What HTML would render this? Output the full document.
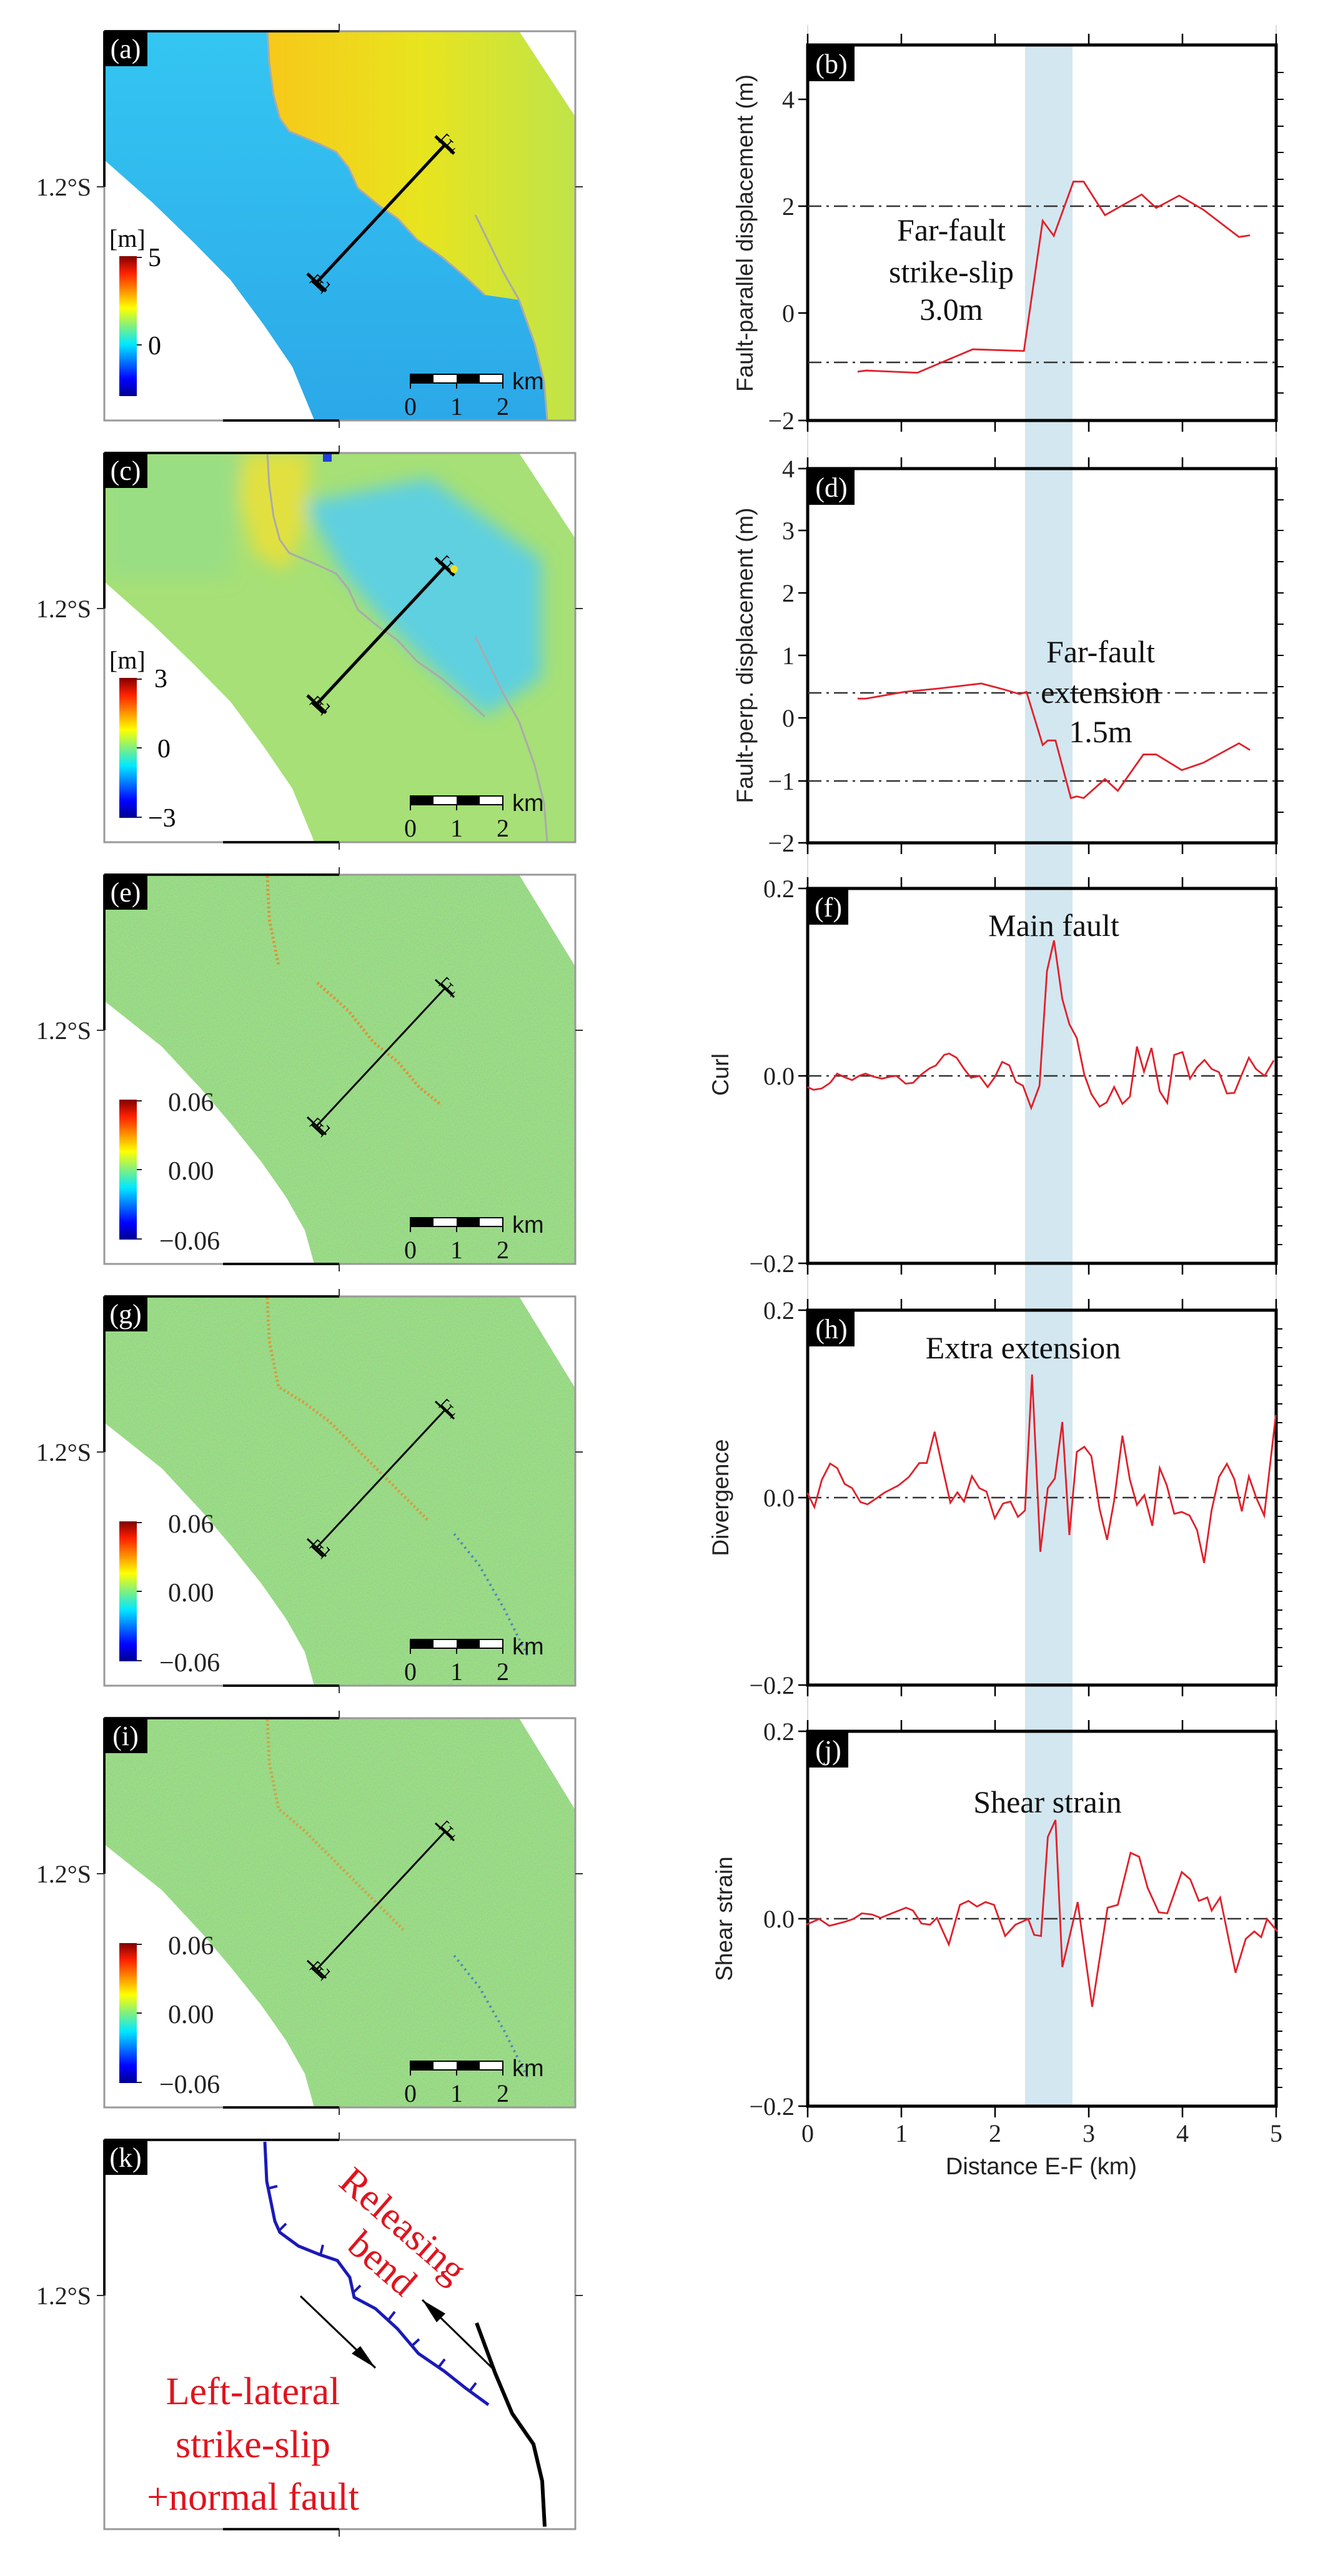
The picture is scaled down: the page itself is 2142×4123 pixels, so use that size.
<!DOCTYPE html>
<html><head><meta charset="utf-8"><style>
html,body{margin:0;padding:0;background:#fff}
svg{display:block}
.s{font-family:"Liberation Serif",serif}
.a{font-family:"Liberation Sans",sans-serif}
</style></head><body>
<svg width="2142" height="4123" viewBox="0 0 2142 4123" xmlns="http://www.w3.org/2000/svg">
<defs>
<linearGradient id="jet" x1="0" y1="1" x2="0" y2="0">
<stop offset="0" stop-color="#00008f"/><stop offset="0.12" stop-color="#0000ff"/><stop offset="0.37" stop-color="#00e8ff"/><stop offset="0.5" stop-color="#80f080"/><stop offset="0.63" stop-color="#ffff00"/><stop offset="0.88" stop-color="#ff2000"/><stop offset="1" stop-color="#800000"/>
</linearGradient>
<linearGradient id="ya" x1="260" y1="0" x2="754" y2="0" gradientUnits="userSpaceOnUse">
<stop offset="0" stop-color="#f7c81a"/><stop offset="0.5" stop-color="#e8e41e"/><stop offset="1" stop-color="#bfe44a"/></linearGradient>
<linearGradient id="ba" x1="0" y1="0" x2="0" y2="623" gradientUnits="userSpaceOnUse">
<stop offset="0" stop-color="#34c6f2"/><stop offset="1" stop-color="#2ca8e8"/></linearGradient>
<clipPath id="cpA" clipPathUnits="userSpaceOnUse"><polygon points="0,0 664,0 754,137 754,623 336,622 301,537 256,471 202,398 142,337 78,275 0,206"/></clipPath>
<clipPath id="cpE" clipPathUnits="userSpaceOnUse"><polygon points="0,0 664,0 754,147 754,623 336,623 321,569 291,516 251,459 202,398 157,345 92,275 0,202"/></clipPath>
<filter id="bl" x="-10%" y="-10%" width="120%" height="120%"><feGaussianBlur stdDeviation="14"/></filter>
<filter id="nz" x="0" y="0" width="100%" height="100%"><feTurbulence type="fractalNoise" baseFrequency="0.55" numOctaves="1" seed="4"/><feColorMatrix type="matrix" values="1 0 0 0 0  0 1 0 0 0  0 0 1 0 0  0 0 0 0 1"/></filter>
</defs>

<!-- (a) -->
<g transform="translate(167,50)">
 <g clip-path="url(#cpA)">
  <rect x="0" y="0" width="754" height="623" fill="url(#ba)"/>
  <polygon points="261,0 264,51 271,102 281,139 296,160 341,179 371,193 391,218 406,251 440,279 470,300 500,333 540,361 579,394 609,422 664,430 689,500 704,561 709,622 754,622 754,0" fill="url(#ya)"/>
 </g>
 <polyline points="261,0 264,51 271,102 281,139 296,160 341,179 371,193 391,218 406,251 440,279 470,300 500,333 540,361 579,394 609,422" fill="none" stroke="#aaa" stroke-width="3"/>
 <polyline points="594,294 619,345 639,386 664,430 689,500 704,561 709,622" fill="none" stroke="#aaa" stroke-width="3"/>
</g>
<!-- (c) -->
<g transform="translate(167,725)">
 <g clip-path="url(#cpA)">
  <rect x="0" y="0" width="754" height="623" fill="#a6e076"/>
  <g filter="url(#bl)">
   <polygon points="225,0 330,0 320,120 290,190 240,160 215,70" fill="#e2e040"/>
   <polygon points="320,80 520,40 700,170 700,360 610,420 520,340 440,260 380,190" fill="#5ed0e0"/>
   <polygon points="0,0 220,0 200,200 0,200" fill="#9ade84"/>
  </g>
 </g>
 <polyline points="261,0 264,51 271,102 281,139 296,160 341,179 371,193 391,218 406,251 440,279 470,300 500,333 540,361 579,394 609,422" fill="none" stroke="#aaa" stroke-width="3"/>
 <polyline points="594,294 619,345 639,386 664,430 689,500 704,561 709,622" fill="none" stroke="#aaa" stroke-width="3"/>
 <rect x="350" y="0" width="14" height="14" fill="#2040e0"/>
</g>
<!-- (e),(g),(i) -->
<g transform="translate(167,1400)">
 <g clip-path="url(#cpE)">
  <rect width="754" height="623" fill="#92e27a"/>
  <rect width="754" height="623" filter="url(#nz)" opacity="0.2"/>
 </g>
 <polyline points="261,2 264,71 279,145" fill="none" stroke="#f08020" stroke-width="5" stroke-dasharray="3 4" opacity="0.8"/>
 <polyline points="341,173 391,218 430,267 470,300 505,341 540,369" fill="none" stroke="#f08020" stroke-width="5" stroke-dasharray="3 4" opacity="0.8"/>
</g>
<g transform="translate(167,2075)">
 <g clip-path="url(#cpE)">
  <rect width="754" height="623" fill="#92e27a"/>
  <rect width="754" height="623" filter="url(#nz)" opacity="0.2"/>
 </g>
 <polyline points="261,2 264,71 279,145 320,170 360,200 400,240 440,280 480,320 520,360" fill="none" stroke="#f08020" stroke-width="5" stroke-dasharray="3 4" opacity="0.7"/>
 <polyline points="560,380 600,430 640,500 680,580" fill="none" stroke="#2050e0" stroke-width="4" stroke-dasharray="3 6" opacity="0.6"/>
</g>
<g transform="translate(167,2750)">
 <g clip-path="url(#cpE)">
  <rect width="754" height="623" fill="#92e27a"/>
  <rect width="754" height="623" filter="url(#nz)" opacity="0.2"/>
 </g>
 <polyline points="261,2 264,71 279,145 320,180 360,220 400,260 440,300 480,340" fill="none" stroke="#f08020" stroke-width="5" stroke-dasharray="3 4" opacity="0.6"/>
 <polyline points="560,380 600,430 640,500 680,580" fill="none" stroke="#2050e0" stroke-width="4" stroke-dasharray="3 6" opacity="0.6"/>
</g>

<g id="deco">
 <g fill="none" stroke="#999" stroke-width="3">
  <rect x="167" y="50" width="754" height="623"/><rect x="167" y="725" width="754" height="623"/>
  <rect x="167" y="1400" width="754" height="623"/><rect x="167" y="2075" width="754" height="623"/>
  <rect x="167" y="2750" width="754" height="623"/><rect x="167" y="3425" width="754" height="623"/>
 </g>
 <g stroke="#111" stroke-width="4">
  <path d="M167 50H543M357 673H543M167 725H543M357 1348H543M167 1400H543M357 2023H543M167 2075H543M357 2698H543M167 2750H543M357 3373H543M167 3425H543M357 4048H543"/>
  <path d="M167 50V299M167 725V974M167 1400V1649M167 2075V2324M167 2750V2999M167 3425V3674"/>
 </g>
 <g stroke="#333" stroke-width="2">
  <path d="M155 299H167M921 299H933M543 673V685M543 38V50"/>
  <path d="M155 974H167M921 974H933M543 1348V1360M543 713V725"/>
  <path d="M155 1649H167M921 1649H933M543 2023V2035M543 1388V1400"/>
  <path d="M155 2324H167M921 2324H933M543 2698V2710M543 2063V2075"/>
  <path d="M155 2999H167M921 2999H933M543 3373V3385M543 2738V2750"/>
  <path d="M155 3674H167M921 3674H933M543 4048V4060M543 3413V3425"/>
 </g>
 <g class="s" font-size="40" text-anchor="end" fill="#222">
  <text x="146" y="313">1.2°S</text><text x="146" y="988">1.2°S</text><text x="146" y="1663">1.2°S</text>
  <text x="146" y="2338">1.2°S</text><text x="146" y="3013">1.2°S</text><text x="146" y="3688">1.2°S</text>
 </g>
</g>

<g class="s">
 <g transform="translate(167,50)">
  <rect width="69" height="56" fill="#000"/><text x="34" y="43" fill="#fff" font-size="44" text-anchor="middle">(a)</text>
  <rect x="24" y="360" width="28" height="224" fill="url(#jet)"/>
  <path d="M52 502H60M52 362H60" stroke="#222" stroke-width="2"/>
  <text x="8" y="345" font-size="40">[m]</text>
  <text x="70" y="376" font-size="42">5</text><text x="70" y="517" font-size="42">0</text>
 </g>
 <g transform="translate(167,725)">
  <rect width="69" height="56" fill="#000"/><text x="34" y="43" fill="#fff" font-size="44" text-anchor="middle">(c)</text>
  <rect x="24" y="360" width="28" height="224" fill="url(#jet)"/>
  <path d="M52 472H60M52 362H60M52 583H60" stroke="#222" stroke-width="2"/>
  <text x="8" y="345" font-size="40">[m]</text>
  <text x="80" y="375" font-size="42">3</text><text x="85" y="487" font-size="42">0</text><text x="70" y="598" font-size="42">−3</text>
 </g>
 <g transform="translate(167,1400)">
  <rect width="69" height="56" fill="#000"/><text x="34" y="43" fill="#fff" font-size="44" text-anchor="middle">(e)</text>
 </g>
 <g transform="translate(167,2075)">
  <rect width="69" height="56" fill="#000"/><text x="34" y="43" fill="#fff" font-size="44" text-anchor="middle">(g)</text>
 </g>
 <g transform="translate(167,2750)">
  <rect width="69" height="56" fill="#000"/><text x="34" y="43" fill="#fff" font-size="44" text-anchor="middle">(i)</text>
 </g>
 <g transform="translate(167,3425)">
  <rect width="69" height="56" fill="#000"/><text x="34" y="43" fill="#fff" font-size="44" text-anchor="middle">(k)</text>
 </g>
</g>

<g class="s" font-size="42" fill="#222">
 <g transform="translate(167,1400)"><rect x="24" y="360" width="28" height="224" fill="url(#jet)"/><path d="M52 472H60M52 362H60M52 583H60" stroke="#222" stroke-width="2"/><text x="102" y="378">0.06</text><text x="102" y="488">0.00</text><text x="88" y="600">−0.06</text></g>
 <g transform="translate(167,2075)"><rect x="24" y="360" width="28" height="224" fill="url(#jet)"/><path d="M52 472H60M52 362H60M52 583H60" stroke="#222" stroke-width="2"/><text x="102" y="378">0.06</text><text x="102" y="488">0.00</text><text x="88" y="600">−0.06</text></g>
 <g transform="translate(167,2750)"><rect x="24" y="360" width="28" height="224" fill="url(#jet)"/><path d="M52 472H60M52 362H60M52 583H60" stroke="#222" stroke-width="2"/><text x="102" y="378">0.06</text><text x="102" y="488">0.00</text><text x="88" y="600">−0.06</text></g>
</g>

<g id="sb">
 <g transform="translate(167,50)">
  <g class="s" font-size="40" fill="#111"><rect x="490" y="549" width="37" height="14" fill="#000"/><rect x="527" y="549" width="37" height="14" fill="#fff"/><rect x="564" y="549" width="37" height="14" fill="#000"/><rect x="601" y="549" width="37" height="14" fill="#fff"/><rect x="490" y="549" width="148" height="14" fill="none" stroke="#000" stroke-width="2"/><path d="M490 549V572M564 563V572M638 549V572" stroke="#000" stroke-width="2"/><text x="653" y="573" class="a" font-size="38">km</text><text x="490" y="614" text-anchor="middle">0</text><text x="564" y="614" text-anchor="middle">1</text><text x="638" y="614" text-anchor="middle">2</text></g>
  <path d="M340 402L545 182M355 416L325 388M560 196L530 168" stroke="#000" stroke-width="5" fill="none"/>
  <text x="330" y="420" class="s" font-size="40" transform="rotate(-47 340 402)">E</text>
  <text x="540" y="198" class="s" font-size="40" transform="rotate(-47 545 182)">F</text>
 </g>
 <g transform="translate(167,725)">
  <g class="s" font-size="40" fill="#111"><rect x="490" y="549" width="37" height="14" fill="#000"/><rect x="527" y="549" width="37" height="14" fill="#fff"/><rect x="564" y="549" width="37" height="14" fill="#000"/><rect x="601" y="549" width="37" height="14" fill="#fff"/><rect x="490" y="549" width="148" height="14" fill="none" stroke="#000" stroke-width="2"/><path d="M490 549V572M564 563V572M638 549V572" stroke="#000" stroke-width="2"/><text x="653" y="573" class="a" font-size="38">km</text><text x="490" y="614" text-anchor="middle">0</text><text x="564" y="614" text-anchor="middle">1</text><text x="638" y="614" text-anchor="middle">2</text></g>
  <path d="M340 402L545 182M355 416L325 388M560 196L530 168" stroke="#000" stroke-width="5" fill="none"/>
  <text x="330" y="420" class="s" font-size="40" transform="rotate(-47 340 402)">E</text>
  <text x="540" y="198" class="s" font-size="40" transform="rotate(-47 545 182)">F</text>
  <circle cx="560" cy="186" r="6" fill="#f0e020"/>
 </g>
 <g transform="translate(167,1400)">
  <g class="s" font-size="40" fill="#111"><rect x="490" y="549" width="37" height="14" fill="#000"/><rect x="527" y="549" width="37" height="14" fill="#fff"/><rect x="564" y="549" width="37" height="14" fill="#000"/><rect x="601" y="549" width="37" height="14" fill="#fff"/><rect x="490" y="549" width="148" height="14" fill="none" stroke="#000" stroke-width="2"/><path d="M490 549V572M564 563V572M638 549V572" stroke="#000" stroke-width="2"/><text x="653" y="573" class="a" font-size="38">km</text><text x="490" y="614" text-anchor="middle">0</text><text x="564" y="614" text-anchor="middle">1</text><text x="638" y="614" text-anchor="middle">2</text></g>
  <path d="M340 402L545 182M355 416L325 388M560 196L530 168" stroke="#000" stroke-width="3" fill="none"/>
  <text x="330" y="420" class="s" font-size="40" transform="rotate(-47 340 402)">E</text>
  <text x="540" y="198" class="s" font-size="40" transform="rotate(-47 545 182)">F</text>
 </g>
 <g transform="translate(167,2075)">
  <g class="s" font-size="40" fill="#111"><rect x="490" y="549" width="37" height="14" fill="#000"/><rect x="527" y="549" width="37" height="14" fill="#fff"/><rect x="564" y="549" width="37" height="14" fill="#000"/><rect x="601" y="549" width="37" height="14" fill="#fff"/><rect x="490" y="549" width="148" height="14" fill="none" stroke="#000" stroke-width="2"/><path d="M490 549V572M564 563V572M638 549V572" stroke="#000" stroke-width="2"/><text x="653" y="573" class="a" font-size="38">km</text><text x="490" y="614" text-anchor="middle">0</text><text x="564" y="614" text-anchor="middle">1</text><text x="638" y="614" text-anchor="middle">2</text></g>
  <path d="M340 402L545 182M355 416L325 388M560 196L530 168" stroke="#000" stroke-width="3" fill="none"/>
  <text x="330" y="420" class="s" font-size="40" transform="rotate(-47 340 402)">E</text>
  <text x="540" y="198" class="s" font-size="40" transform="rotate(-47 545 182)">F</text>
 </g>
 <g transform="translate(167,2750)">
  <g class="s" font-size="40" fill="#111"><rect x="490" y="549" width="37" height="14" fill="#000"/><rect x="527" y="549" width="37" height="14" fill="#fff"/><rect x="564" y="549" width="37" height="14" fill="#000"/><rect x="601" y="549" width="37" height="14" fill="#fff"/><rect x="490" y="549" width="148" height="14" fill="none" stroke="#000" stroke-width="2"/><path d="M490 549V572M564 563V572M638 549V572" stroke="#000" stroke-width="2"/><text x="653" y="573" class="a" font-size="38">km</text><text x="490" y="614" text-anchor="middle">0</text><text x="564" y="614" text-anchor="middle">1</text><text x="638" y="614" text-anchor="middle">2</text></g>
  <path d="M340 402L545 182M355 416L325 388M560 196L530 168" stroke="#000" stroke-width="3" fill="none"/>
  <text x="330" y="420" class="s" font-size="40" transform="rotate(-47 340 402)">E</text>
  <text x="540" y="198" class="s" font-size="40" transform="rotate(-47 545 182)">F</text>
 </g>
</g>

<g transform="translate(167,3425)">
 <polyline points="257,3 260,66 273,130 281,148 311,170 346,184 373,193 393,220 400,252 434,270 469,302 503,342 544,370 578,397 615,424" fill="none" stroke="#1a1ab8" stroke-width="5"/>
 <path d="M261,78 l16,-4 M279,146 l12,-12 M346,184 l4,-16 M398,245 l12,-12 M455,288 l10,-13 M492,330 l12,-11 M535,364 l10,-13 M585,402 l10,-13" stroke="#1a1ab8" stroke-width="4"/>
 <polyline points="596,293 626,374 653,438 687,487 701,546 705,619" fill="none" stroke="#000" stroke-width="6"/>
 <path d="M314 250L434 365" stroke="#000" stroke-width="3"/>
 <polygon points="434,365 396,342 410,330" fill="#000"/>
 <path d="M626 370L509 256" stroke="#000" stroke-width="3"/>
 <polygon points="509,256 546,278 532,292" fill="#000"/>
 <g class="s" fill="#e0141e" font-size="62" text-anchor="middle">
  <text x="478" y="157" transform="rotate(41 478 137)">Releasing</text>
  <text x="445" y="218" transform="rotate(41 445 198)">bend</text>
  <text x="238" y="423">Left-lateral</text>
  <text x="238" y="508">strike-slip</text>
  <text x="238" y="592">+normal fault</text>
 </g>
</g>

<rect x="1641" y="72" width="76" height="3299" fill="#d3e7f0"/>
<path d="M1293 40V3371M2043 40V3371" stroke="#ddd" stroke-width="2"/>

<g fill="none" stroke="#000" stroke-width="5">
 <rect x="1293" y="72" width="750" height="601"/>
 <rect x="1293" y="750" width="750" height="599"/>
 <rect x="1293" y="1422" width="750" height="600"/>
 <rect x="1293" y="2097" width="750" height="600"/>
 <rect x="1293" y="2771" width="750" height="600"/>
</g>
<g stroke="#000" stroke-width="2.5">
 <path d="M1293 54V72M1443 54V72M1593 54V72M1743 54V72M1893 54V72M2043 54V72M1293 673V691M1443 673V691M1593 673V691M1743 673V691M1893 673V691M2043 673V691"/>
 <path d="M1293 732V750M1443 732V750M1593 732V750M1743 732V750M1893 732V750M2043 732V750M1293 1349V1367M1443 1349V1367M1593 1349V1367M1743 1349V1367M1893 1349V1367M2043 1349V1367"/>
 <path d="M1293 1404V1422M1443 1404V1422M1593 1404V1422M1743 1404V1422M1893 1404V1422M2043 1404V1422M1293 2022V2040M1443 2022V2040M1593 2022V2040M1743 2022V2040M1893 2022V2040M2043 2022V2040"/>
 <path d="M1293 2079V2097M1443 2079V2097M1593 2079V2097M1743 2079V2097M1893 2079V2097M2043 2079V2097M1293 2697V2715M1443 2697V2715M1593 2697V2715M1743 2697V2715M1893 2697V2715M2043 2697V2715"/>
 <path d="M1293 2753V2771M1443 2753V2771M1593 2753V2771M1743 2753V2771M1893 2753V2771M2043 2753V2771M1293 3371V3389M1443 3371V3389M1593 3371V3389M1743 3371V3389M1893 3371V3389M2043 3371V3389"/>
 <path d="M1278 159H1293M1278 330H1293M1278 501H1293M1278 673H1293"/>
 <path d="M1278 750H1293M1278 849H1293M1278 949H1293M1278 1049H1293M1278 1149H1293M1278 1250H1293M1278 1349H1293"/>
 <path d="M1278 1422H1293M1278 1722H1293M1278 2022H1293M1278 2097H1293M1278 2397H1293M1278 2697H1293M1278 2771H1293M1278 3071H1293M1278 3371H1293"/>
</g>
<g stroke="#000" stroke-width="2">
 <path d="M2043 116h12M2043 159h12M2043 202h12M2043 244h12M2043 287h12M2043 330h12M2043 373h12M2043 415h12M2043 458h12M2043 501h12M2043 544h12M2043 587h12M2043 629h12"/>
 <path d="M2043 800h12M2043 849h12M2043 899h12M2043 949h12M2043 999h12M2043 1049h12M2043 1099h12M2043 1149h12M2043 1199h12M2043 1250h12M2043 1300h12"/>
 <path d="M2043 1452h10M2043 1482h10M2043 1512h10M2043 1542h10M2043 1572h10M2043 1602h10M2043 1632h10M2043 1662h10M2043 1692h10M2043 1722h10M2043 1752h10M2043 1782h10M2043 1812h10M2043 1842h10M2043 1872h10M2043 1902h10M2043 1932h10M2043 1962h10M2043 1992h10"/>
 <path d="M2043 2127h10M2043 2157h10M2043 2187h10M2043 2217h10M2043 2247h10M2043 2277h10M2043 2307h10M2043 2337h10M2043 2367h10M2043 2397h10M2043 2427h10M2043 2457h10M2043 2487h10M2043 2517h10M2043 2547h10M2043 2577h10M2043 2607h10M2043 2637h10M2043 2667h10"/>
 <path d="M2043 2801h10M2043 2831h10M2043 2861h10M2043 2891h10M2043 2921h10M2043 2951h10M2043 2981h10M2043 3011h10M2043 3041h10M2043 3071h10M2043 3101h10M2043 3131h10M2043 3161h10M2043 3191h10M2043 3221h10M2043 3251h10M2043 3281h10M2043 3311h10M2043 3341h10"/>
</g>

<g stroke="#333" stroke-width="2.5" stroke-dasharray="22 8 4 8" fill="none">
 <path d="M1293 330H2043M1293 580H2043"/>
 <path d="M1293 1109H2043M1293 1250H2043"/>
 <path d="M1293 1722H2043"/><path d="M1293 2397H2043"/><path d="M1293 3071H2043"/>
</g>

<g fill="none" stroke="#e0202a" stroke-width="2.8">
 <g transform="scale(1.366,0.8945)">
  <polyline vector-effect="non-scaling-stroke" points="1005,665 1015,663 1075,667 1140,625 1200,628 1222,395 1235,422 1258,325 1270,325 1295,385 1338,348 1355,372 1382,350 1410,375 1452,424 1465,421"/>
  <polyline vector-effect="non-scaling-stroke" points="1005,1250 1015,1250 1060,1238 1100,1232 1150,1223 1175,1233 1195,1242 1203,1238 1222,1333 1228,1325 1237,1325 1255,1428 1262,1425 1270,1428 1295,1394 1310,1415 1340,1350 1355,1350 1385,1378 1410,1365 1452,1330 1465,1342"/>
 </g>
 <g transform="translate(1100,1380) scale(0.6637,0.447)">
  <polyline vector-effect="non-scaling-stroke" points="290,805 305,815 325,810 345,790 362,757 380,770 398,780 415,765 430,757 450,768 470,775 490,768 505,765 527,793 545,790 565,760 585,738 600,728 620,690 632,685 650,700 668,740 685,772 705,765 725,805 742,770 760,715 777,727 793,787 810,800 830,880 850,800 868,390 885,280 905,490 922,580 940,630 958,760 975,830 995,875 1012,860 1030,805 1050,865 1068,840 1085,660 1102,750 1120,665 1140,820 1158,862 1175,690 1195,680 1213,775 1230,735 1248,708 1265,740 1283,752 1302,828 1320,826 1338,760 1355,700 1372,740 1393,765 1415,710"/>
 </g>
 <g transform="translate(1100,2060) scale(0.6637,0.447)">
  <polyline vector-effect="non-scaling-stroke" points="290,737 307,788 325,690 345,632 362,648 380,705 398,720 418,770 435,778 455,758 475,737 510,710 535,680 560,630 578,630 597,518 615,640 635,772 652,735 668,768 687,677 705,720 722,732 742,828 762,775 780,768 798,823 815,800 832,313 852,948 870,720 887,685 905,483 922,888 940,590 958,572 975,605 995,795 1013,905 1030,765 1050,532 1068,690 1085,780 1103,745 1122,855 1140,648 1157,710 1175,812 1193,805 1212,818 1230,870 1247,988 1265,800 1283,680 1302,633 1320,688 1338,803 1355,678 1373,755 1392,818 1420,458"/>
 </g>
 <g transform="translate(0,2700) scale(1.366,0.906)">
  <polyline vector-effect="non-scaling-stroke" points="945,420 960,410 972,422 990,415 1000,410 1010,400 1022,402 1032,408 1045,400 1062,390 1070,395 1080,418 1090,420 1098,408 1112,455 1125,385 1135,378 1145,388 1155,380 1165,385 1178,440 1190,420 1205,410 1212,438 1220,440 1228,265 1237,235 1245,495 1263,380 1280,565 1298,390 1310,385 1325,293 1335,300 1345,355 1358,398 1368,400 1385,327 1395,340 1405,378 1415,372 1420,395 1430,372 1448,505 1460,445 1470,432 1478,442 1485,410 1497,432"/>
 </g>
</g>

<g class="s" font-size="44" fill="#fff" text-anchor="middle">
 <rect x="1295" y="74" width="73" height="56" fill="#000"/><text x="1331" y="117">(b)</text>
 <rect x="1295" y="752" width="73" height="56" fill="#000"/><text x="1331" y="795">(d)</text>
 <rect x="1295" y="1424" width="63" height="56" fill="#000"/><text x="1326" y="1467">(f)</text>
 <rect x="1295" y="2099" width="73" height="56" fill="#000"/><text x="1331" y="2142">(h)</text>
 <rect x="1295" y="2773" width="63" height="56" fill="#000"/><text x="1326" y="2816">(j)</text>
</g>

<g class="s" font-size="50" fill="#111" text-anchor="middle">
 <text x="1523" y="385">Far-fault</text><text x="1523" y="452">strike-slip</text><text x="1523" y="512">3.0m</text>
 <text x="1762" y="1060">Far-fault</text><text x="1762" y="1125">extension</text><text x="1762" y="1188">1.5m</text>
 <text x="1687" y="1498">Main fault</text>
 <text x="1638" y="2174">Extra extension</text>
 <text x="1677" y="2901">Shear strain</text>
</g>

<g class="s" font-size="40" fill="#222" text-anchor="end">
 <text x="1272" y="173">4</text><text x="1272" y="344">2</text><text x="1272" y="515">0</text><text x="1272" y="687">−2</text>
 <text x="1272" y="764">4</text><text x="1272" y="863">3</text><text x="1272" y="963">2</text><text x="1272" y="1063">1</text><text x="1272" y="1163">0</text><text x="1272" y="1264">−1</text><text x="1272" y="1363">−2</text>
 <text x="1272" y="1436">0.2</text><text x="1272" y="1736">0.0</text><text x="1272" y="2036">−0.2</text>
 <text x="1272" y="2111">0.2</text><text x="1272" y="2411">0.0</text><text x="1272" y="2711">−0.2</text>
 <text x="1272" y="2785">0.2</text><text x="1272" y="3085">0.0</text><text x="1272" y="3385">−0.2</text>
</g>
<g class="s" font-size="40" fill="#222" text-anchor="middle">
 <text x="1293" y="3428">0</text><text x="1443" y="3428">1</text><text x="1593" y="3428">2</text><text x="1743" y="3428">3</text><text x="1893" y="3428">4</text><text x="2043" y="3428">5</text>
</g>
<text x="1667" y="3480" class="a" font-size="38" fill="#222" text-anchor="middle">Distance E-F (km)</text>

<g class="a" font-size="37" fill="#222" text-anchor="middle">
 <text transform="translate(1205,373) rotate(-90)">Fault-parallel displacement (m)</text>
 <text transform="translate(1205,1049) rotate(-90)">Fault-perp. displacement (m)</text>
 <text transform="translate(1166,1720) rotate(-90)">Curl</text>
 <text transform="translate(1166,2397) rotate(-90)">Divergence</text>
 <text transform="translate(1172,3071) rotate(-90)">Shear strain</text>
</g>
</svg>
</body></html>
